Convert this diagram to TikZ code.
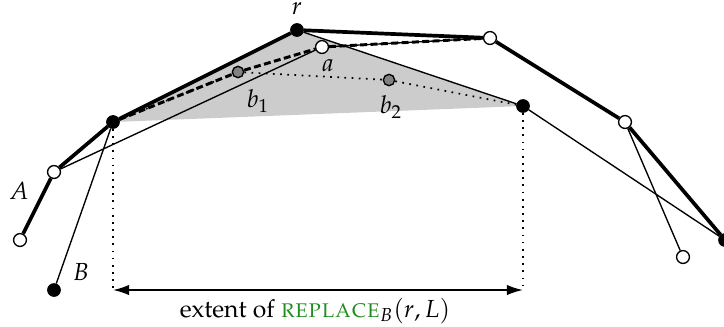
\documentclass[tikz,border=0pt]{standalone}
\usepackage[T1]{fontenc}
\usepackage{mathpazo}
\usetikzlibrary{arrows.meta}
\definecolor{grn}{RGB}{30,140,30}
\definecolor{regiongray}{RGB}{204,204,204}
\definecolor{midgray}{RGB}{130,130,130}
\begin{document}
\begin{tikzpicture}[x=0.405pt,y=-0.405pt,
  thickln/.style={line width=1.5pt},
  thinln/.style={line width=0.55pt},
  dashln/.style={line width=1.2pt,dash pattern=on 2.8pt off 1.4pt},
  dotln/.style={line width=0.7pt,dash pattern=on 0.7pt off 2.2pt},
  wnode/.style={circle,draw,fill=white,line width=0.55pt,inner sep=0pt,minimum size=5.2pt},
  bnode/.style={circle,draw,fill=black,line width=0.55pt,inner sep=0pt,minimum size=5pt},
  gnode/.style={circle,draw,fill=midgray,line width=0.55pt,inner sep=0pt,minimum size=4.6pt},
  lbl/.style={inner sep=0pt}]
\useasboundingbox (0,0) rectangle (724,326);
\clip (0,0) rectangle (724,326);
% positions
\coordinate (pA1) at (20,240);
\coordinate (pA2) at (54,172);
\coordinate (pP) at (113,122);
\coordinate (pr) at (297,30);
\coordinate (pa) at (322,47);
\coordinate (pW) at (490,38);
\coordinate (pQ) at (523,106);
\coordinate (pW2) at (625,122);
\coordinate (pR) at (725,240);
\coordinate (pWb) at (683,257);
\coordinate (pB) at (54,290);
\coordinate (pb1) at (238,72);
\coordinate (pb2) at (389,80);
% gray region
\fill[regiongray] (pP) -- (pr) -- (pQ) -- cycle;
% nodes
\node[wnode] (A1) at (pA1) {};
\node[wnode] (A2) at (pA2) {};
\node[bnode] (P) at (pP) {};
\node[bnode] (r) at (pr) {};
\node[wnode] (a) at (pa) {};
\node[wnode] (W) at (pW) {};
\node[bnode] (Q) at (pQ) {};
\node[wnode] (W2) at (pW2) {};
\node[bnode] (R) at (pR) {};
\node[wnode] (Wb) at (pWb) {};
\node[bnode] (B) at (pB) {};
\node[gnode] (b1) at (pb1) {};
\node[gnode] (b2) at (pb2) {};
% thin edges
\draw[thinln] (B) -- (P);
\draw[thinln] (A2) -- (a);
\draw[thinln] (a) -- (W);
\draw[thinln] (r) -- (Q);
\draw[thinln] (Q) -- (R);
\draw[thinln] (W2) -- (Wb);
% thick edges
\draw[thickln] (A1) -- (A2);
\draw[thickln] (A2) -- (P);
\draw[thickln] (P) -- (r);
\draw[thickln] (r) -- (W);
\draw[thickln] (W) -- (W2);
\draw[thickln] (W2) -- (R);
% dashed and dotted
\draw[dashln] (P) -- (b1);
\draw[dashln] (b1) -- (a);
\draw[dashln] (a) -- (W);
\draw[dotln] (P) -- (b1);
\draw[dotln] (b1) -- (b2);
\draw[dotln] (b2) -- (Q);
% extent
\coordinate (Pd) at (113,290);
\coordinate (Qd) at (523,290);
\draw[dotln] (P) -- (Pd);
\draw[dotln] (Q) -- (Qd);
\draw[line width=0.7pt,{Latex[length=6.5pt,width=4.2pt]}-{Latex[length=6.5pt,width=4.2pt]}] (Pd) -- (Qd);
% labels
\node[lbl] (lr) at (297,9) {$r$};
\node[lbl] (la) at (328,66) {$a$};
\node[lbl] (lb1) at (258,101) {$b_1$};
\node[lbl] (lb2) at (391,107) {$b_2$};
\node[lbl] (lA) at (19,191) {$A$};
\node[lbl] (lB) at (81,272) {$B$};
\node[lbl] (ext) at (315,311) {extent of \textcolor{grn}{\textsc{replace}}$_B(r,L)$};
\end{tikzpicture}
\end{document}
